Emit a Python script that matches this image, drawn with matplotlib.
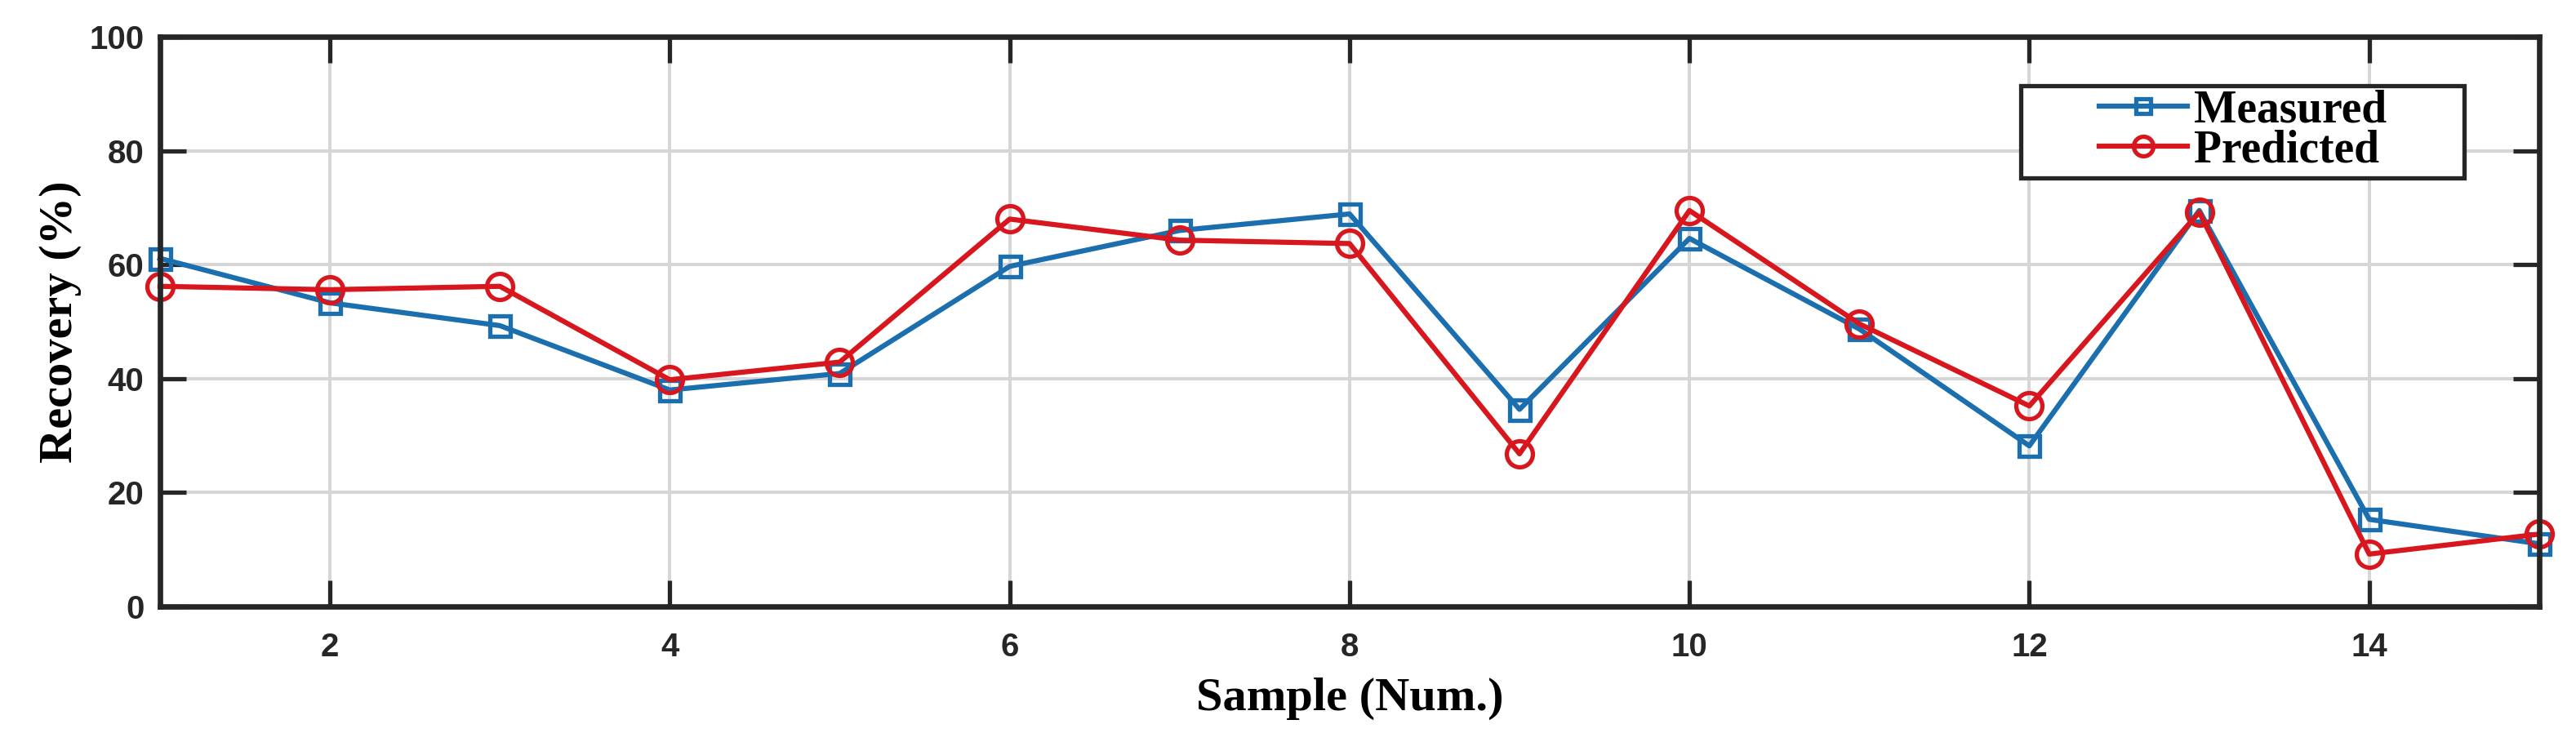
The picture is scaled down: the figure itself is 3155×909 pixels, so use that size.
import matplotlib
matplotlib.use("Agg")
import matplotlib.pyplot as plt
from matplotlib.patches import Rectangle

# values
samples = list(range(1, 16))
measured = [61.1, 53.3, 49.3, 38.0, 40.9, 59.7, 66.0, 68.9, 34.6, 64.6, 48.7, 28.2, 69.5, 15.3, 11.0]
predicted = [56.2, 55.6, 56.2, 39.8, 42.9, 68.0, 64.3, 63.7, 26.8, 69.5, 49.6, 35.2, 69.2, 9.2, 12.7]
x_ticks = [2, 4, 6, 8, 10, 12, 14]
y_ticks = [0, 20, 40, 60, 80, 100]

blue = '#1b6fae'
red = '#d8161e'
dark = '#262626'
serif = 'Liberation Serif'

fig = plt.figure(figsize=(31.55, 9.09), dpi=100)
ax = fig.add_axes([0.0621, 0.1826, 0.9236, 0.7679])

ax.plot(samples, measured, '-s', color=blue, lw=4.5, ms=18, mfc='none',
        mew=3.8, label='Measured', zorder=3, clip_on=False)
ax.plot(samples, predicted, '-o', color=red, lw=4.5, ms=23, mfc='none',
        mew=3.8, label='Predicted', zorder=4, clip_on=False)

ax.set_xlim(1, 15)
ax.set_ylim(0, 100)
ax.set_xticks(x_ticks)
ax.set_yticks(y_ticks)
ax.grid(True, color='#d6d6d6', lw=2.9)
ax.set_axisbelow(True)

for s in ax.spines.values():
    s.set_linewidth(4.8)
    s.set_color(dark)
    s.set_zorder(5)
ax.tick_params(direction='in', length=23, width=3.8, color=dark,
               top=True, right=True, labelsize=29, labelcolor=dark)
ax.tick_params(axis='x', pad=22)
ax.tick_params(axis='y', pad=14)
for lab in ax.get_xticklabels() + ax.get_yticklabels():
    lab.set_fontweight('bold')
    lab.set_family('Liberation Sans')

ax.set_xlabel('Sample (Num.)', family=serif, fontweight='bold',
              fontsize=42, labelpad=13)
ax.set_ylabel('Recovery (%)', family=serif, fontweight='bold',
              fontsize=42, labelpad=7)

# legend box is wider than the entries, so the frame is drawn separately
box = Rectangle((0.782, 0.752), 0.1864, 0.162, transform=ax.transAxes,
                facecolor='white', edgecolor=dark, lw=3.8, zorder=6)
ax.add_patch(box)
leg = ax.legend(loc='center', bbox_to_anchor=(0.8754, 0.835),
                prop={'family': serif, 'weight': 'bold', 'size': 40},
                frameon=False, labelspacing=-0.05, handlelength=1.95,
                handletextpad=0.13, borderpad=0, borderaxespad=0,
                markerscale=0.75)
leg.set_zorder(7)

fig.savefig('out.png', dpi=100, facecolor='white')
